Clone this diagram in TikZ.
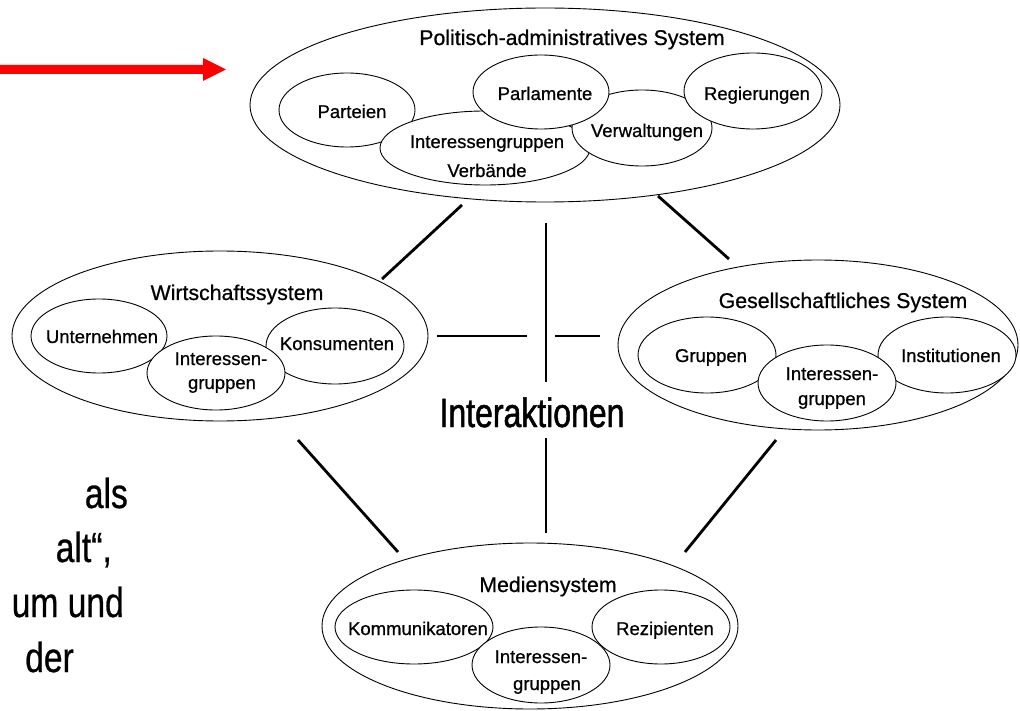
\documentclass[tikz,border=0pt]{standalone}
\usepackage{fontspec}
\setmainfont{Liberation Sans}
\newfontfamily\heavyfont{Liberation Sans}[FakeBold=0.7]
\newfontfamily\narrowfont{Liberation Sans}[FakeStretch=0.78,FakeBold=1.2]
\newfontfamily\sidefont{Liberation Sans}[FakeStretch=0.8,FakeBold=0.6]
\usetikzlibrary{shapes.geometric}
\tikzset{
  ell/.style={draw, ellipse, fill=white, inner sep=0pt, line width=0.9pt},
  lbl/.style={font=\heavyfont\fontsize{18.5}{22}\selectfont, inner sep=0pt, anchor=base},
  ttl/.style={font=\heavyfont\fontsize{21.3}{25}\selectfont, inner sep=0pt, anchor=base},
  side/.style={font=\sidefont\fontsize{42}{46}\selectfont, inner sep=0pt, anchor=base east},
  conn/.style={line width=2.8pt},
}
\newcommand{\ellnode}[5]{\node[ell, minimum width=#4*2pt, minimum height=#5*2pt] (#1) at (#2,#3) {};}
\begin{document}
\begin{tikzpicture}[x=1pt,y=-1pt]
\useasboundingbox (0,0) rectangle (1020,711);

% red arrow
\fill[red] (0,65) coordinate (ra) -- (203,65) -- (203,58) -- (226,69.5) coordinate (rb) -- (203,81) -- (203,74) -- (0,74) -- cycle;

% ---- Politisch-administratives System
\ellnode{pol}{545}{105}{295}{97}
\node[ttl] (poltitle) at (572,45) {Politisch-administratives System};
\ellnode{parteien}{347}{110}{68}{37}
\ellnode{igpol}{485}{148}{105}{37}
\ellnode{verw}{642}{128}{70}{38}
\ellnode{parl}{541}{92}{68}{37}
\ellnode{reg}{753}{91}{69}{38}
\node[lbl] (tparteien) at (352,118) {Parteien};
\node[lbl] (tparl) at (545,100) {Parlamente};
\node[lbl] (treg) at (757,100) {Regierungen};
\node[lbl] (tverw) at (647,137) {Verwaltungen};
\node[lbl] (tigpol1) at (487,148) {Interessengruppen};
\node[lbl] (tigpol2) at (487,177) {Verbände};

% ---- Wirtschaftssystem
\ellnode{wir}{220}{336}{208}{85}
\node[ttl] (wirtitle) at (237,300) {Wirtschaftssystem};
\ellnode{untern}{99}{336}{68}{37}
\ellnode{kons}{335}{346}{69}{38}
\ellnode{igwir}{216}{373}{69}{37}
\node[lbl] (tuntern) at (102,343) {Unternehmen};
\node[lbl] (tkons) at (337,350) {Konsumenten};
\node[lbl] (tigwir1) at (221,365) {Interessen-};
\node[lbl] (tigwir2) at (222,389) {gruppen};

% ---- Gesellschaftliches System
\ellnode{ges}{818}{345}{200}{85}
\node[ttl] (gestitle) at (843,308) {Gesellschaftliches System};
\ellnode{grup}{707}{355}{69}{38}
\ellnode{inst}{947}{355}{69}{38}
\ellnode{igges}{827}{383}{69}{38}
\node[lbl] (tgrup) at (711,362) {Gruppen};
\node[lbl] (tinst) at (951,362) {Institutionen};
\node[lbl] (tigges1) at (832,380) {Interessen-};
\node[lbl] (tigges2) at (832,405) {gruppen};

% ---- Mediensystem
\ellnode{med}{530}{626}{208}{83}
\node[ttl] (medtitle) at (548,592) {Mediensystem};
\ellnode{komm}{414}{627}{79}{37}
\ellnode{igmed}{541}{665}{69}{38}
\ellnode{rez}{661}{627}{69}{37}
\node[lbl] (tkomm) at (418,635) {Kommunikatoren};
\node[lbl] (trez) at (665,635) {Rezipienten};
\node[lbl] (tigmed1) at (541,663) {Interessen-};
\node[lbl] (tigmed2) at (547,690) {gruppen};

% ---- Interaktionen
\node[font=\narrowfont\fontsize{41}{45}\selectfont, inner sep=0pt, anchor=base] (inter) at (532,427) {Interaktionen};

% connectors
\coordinate (pw1) at (462,205); \coordinate (pw2) at (382,279);
\coordinate (pg1) at (658,196); \coordinate (pg2) at (729,259);
\coordinate (v1a) at (546,223); \coordinate (v1b) at (546,382);
\coordinate (v2a) at (546,438); \coordinate (v2b) at (546,533);
\coordinate (h1a) at (437,336); \coordinate (h1b) at (527,336);
\coordinate (h2a) at (555,336); \coordinate (h2b) at (600,336);
\coordinate (wm1) at (298,440); \coordinate (wm2) at (398,552);
\coordinate (gm1) at (776,440); \coordinate (gm2) at (685,552);
\draw[conn] (pw1) -- (pw2);
\draw[conn] (pg1) -- (pg2);
\draw[conn] (v1a) -- (v1b);
\draw[conn] (v2a) -- (v2b);
\draw[conn, line width=2.2pt] (h1a) -- (h1b);
\draw[conn, line width=2.2pt] (h2a) -- (h2b);
\draw[conn] (wm1) -- (wm2);
\draw[conn] (gm1) -- (gm2);

% left text fragments
\begin{scope}
\clip (0,0) rectangle (1020,711);
\node[side] (s1) at (128,508) {als};
\node[side] (s2) at (112,562) {alt“,};
\node[side] (s3) at (124,617) {um und};
\node[side] (s4) at (74,672) {der};
\end{scope}
\end{tikzpicture}
\end{document}
